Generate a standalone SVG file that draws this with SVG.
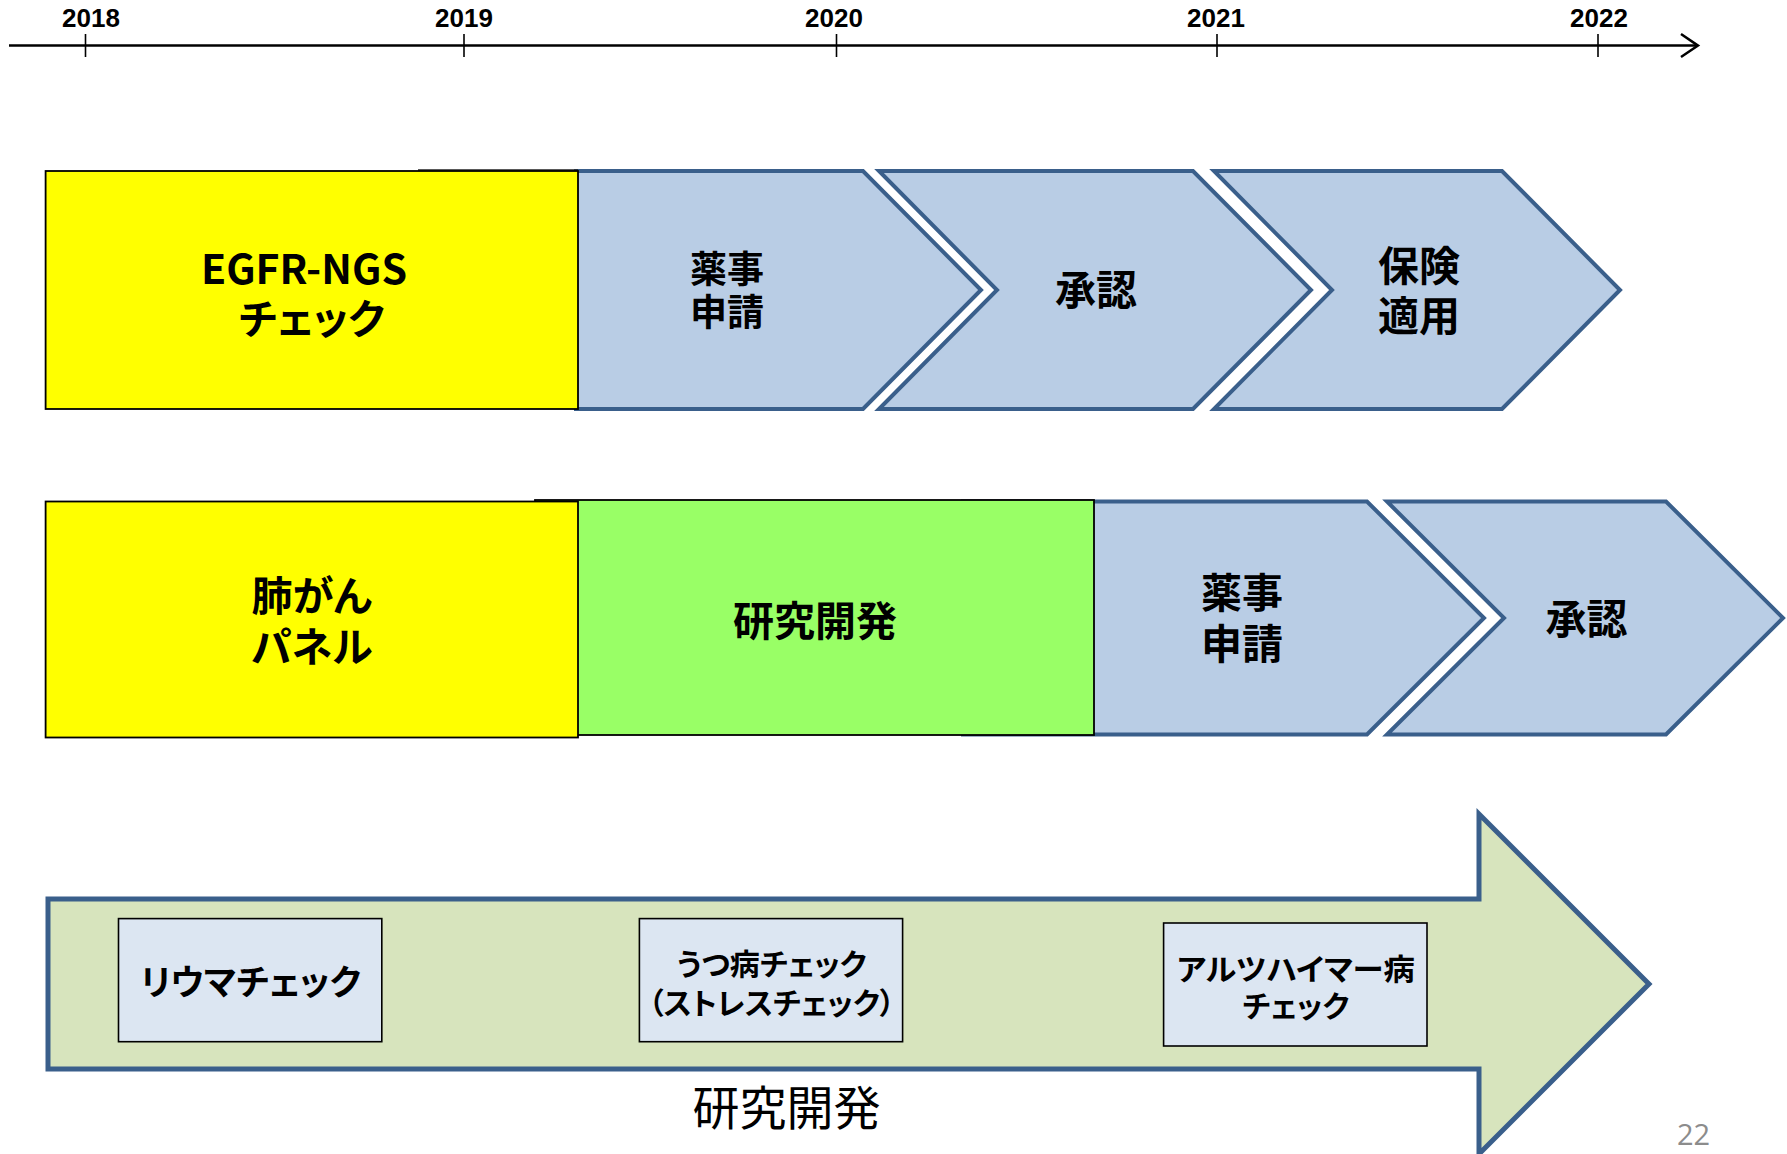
<svg xmlns="http://www.w3.org/2000/svg" width="1787" height="1154" viewBox="0 0 1787 1154">
<style>
.chev{fill:#B9CDE5;stroke:#3A5F8B;stroke-width:4;stroke-linejoin:miter}
.yel{fill:#FFFF00;stroke:#000;stroke-width:1.8}
.grn{fill:#99FF66;stroke:#000;stroke-width:1.8}
.box{fill:#DCE6F2;stroke:#000;stroke-width:1.6}
.big{fill:#D7E4BD;stroke:#3A5F8B;stroke-width:5}
.t{font-family:"Noto Sans CJK JP",sans-serif;font-weight:700;fill:#000;text-anchor:middle;font-feature-settings:"palt"}
.l{font-size:41px}
.m{font-size:37px}
.s{font-size:30px}
.yr{font-family:"Liberation Sans",Arial,sans-serif;font-weight:700;font-size:26px;text-anchor:middle;fill:#000}
.ax{stroke:#000;fill:none}
</style>
<g id="timeline">
<line class="ax" x1="9" y1="45.6" x2="1698" y2="45.6" stroke-width="2.5"/>
<polyline class="ax" points="1681,34 1698,45.6 1681,57" stroke-width="2.5"/>
<line class="ax" x1="85.5" y1="34" x2="85.5" y2="57" stroke-width="1.6"/>
<line class="ax" x1="464" y1="34" x2="464" y2="57" stroke-width="1.6"/>
<line class="ax" x1="836.5" y1="34" x2="836.5" y2="57" stroke-width="1.6"/>
<line class="ax" x1="1217" y1="34" x2="1217" y2="57" stroke-width="1.6"/>
<line class="ax" x1="1598" y1="34" x2="1598" y2="57" stroke-width="1.6"/>
<text class="yr" x="91" y="27">2018</text>
<text class="yr" x="464" y="27">2019</text>
<text class="yr" x="834" y="27">2020</text>
<text class="yr" x="1216" y="27">2021</text>
<text class="yr" x="1599" y="27">2022</text>
</g>
<g id="row1">
<g id="yakuji1">
<path class="chev" d="M576,171 L863,171 L981,290 L863,409 L576,409 Z"/>
<text class="t m" x="727" y="283">薬事</text>
<text class="t m" x="727" y="326">申請</text>
</g>
<g id="shonin1">
<path class="chev" d="M879,171 L1193,171 L1311,290 L1193,409 L879,409 L997,290 Z"/>
<text class="t l" x="1096" y="305">承認</text>
</g>
<g id="hoken">
<path class="chev" d="M1214,171 L1502,171 L1620,290 L1502,409 L1214,409 L1332,290 Z"/>
<text class="t l" x="1419" y="281">保険</text>
<text class="t l" x="1419" y="331">適用</text>
</g>
<g id="egfr">
<line x1="418" y1="170" x2="578" y2="170" stroke="#222" stroke-width="1.5"/>
<rect class="yel" x="45.6" y="171" width="532.4" height="238"/>
<text class="t l" x="304" y="284">EGFR-NGS</text>
<text class="t l" x="311.8" y="334">チェック</text>
</g>
</g>
<g id="row2">
<g id="yakuji2">
<path class="chev" d="M963,501.5 L1367,501.5 L1484,618 L1367,734.5 L963,734.5 Z"/>
<text class="t l" x="1242" y="608">薬事</text>
<text class="t l" x="1242" y="659">申請</text>
</g>
<g id="shonin2">
<path class="chev" d="M1387,501.5 L1666,501.5 L1783,618 L1666,734.5 L1387,734.5 L1504,618 Z"/>
<text class="t l" x="1586.5" y="634">承認</text>
</g>
<g id="kenkyu1">
<rect class="grn" x="535" y="500" width="559" height="235"/>
<text class="t l" x="815" y="636">研究開発</text>
</g>
<g id="haigan">
<rect class="yel" x="45.6" y="501.5" width="532.4" height="236"/>
<text class="t l" x="311.8" y="611">肺がん</text>
<text class="t l" x="311.8" y="662">パネル</text>
</g>
</g>
<g id="row3">
<g id="kenkyu2">
<path class="big" d="M48,899 L1479,899 L1479,814 L1649,984 L1479,1154 L1479,1069 L48,1069 Z"/>
<text x="786.4" y="1125" style="font-family:'Noto Sans CJK JP',sans-serif;font-size:47px;text-anchor:middle;fill:#000">研究開発</text>
</g>
<g id="rheuma">
<rect class="box" x="118.5" y="918.6" width="263.3" height="123.1"/>
<text class="t" x="250.7" y="995" style="font-size:35px">リウマチェック</text>
</g>
<g id="utsu">
<rect class="box" x="639.4" y="918.6" width="263.2" height="123.1"/>
<text class="t s" x="771.6" y="975">うつ病チェック</text>
<text class="t s" x="771.6" y="1014">（ストレスチェック）</text>
</g>
<g id="alz">
<rect class="box" x="1163.6" y="923" width="263.4" height="123"/>
<text class="t s" x="1295.8" y="980" textLength="238" lengthAdjust="spacingAndGlyphs">アルツハイマー病</text>
<text class="t s" x="1295.8" y="1017">チェック</text>
</g>
</g>
<g id="connectors"></g>
<text x="1693.6" y="1145" style="font-family:'Open Sans',sans-serif;font-size:29px;text-anchor:middle;fill:#8C8C8C">22</text>
</svg>
